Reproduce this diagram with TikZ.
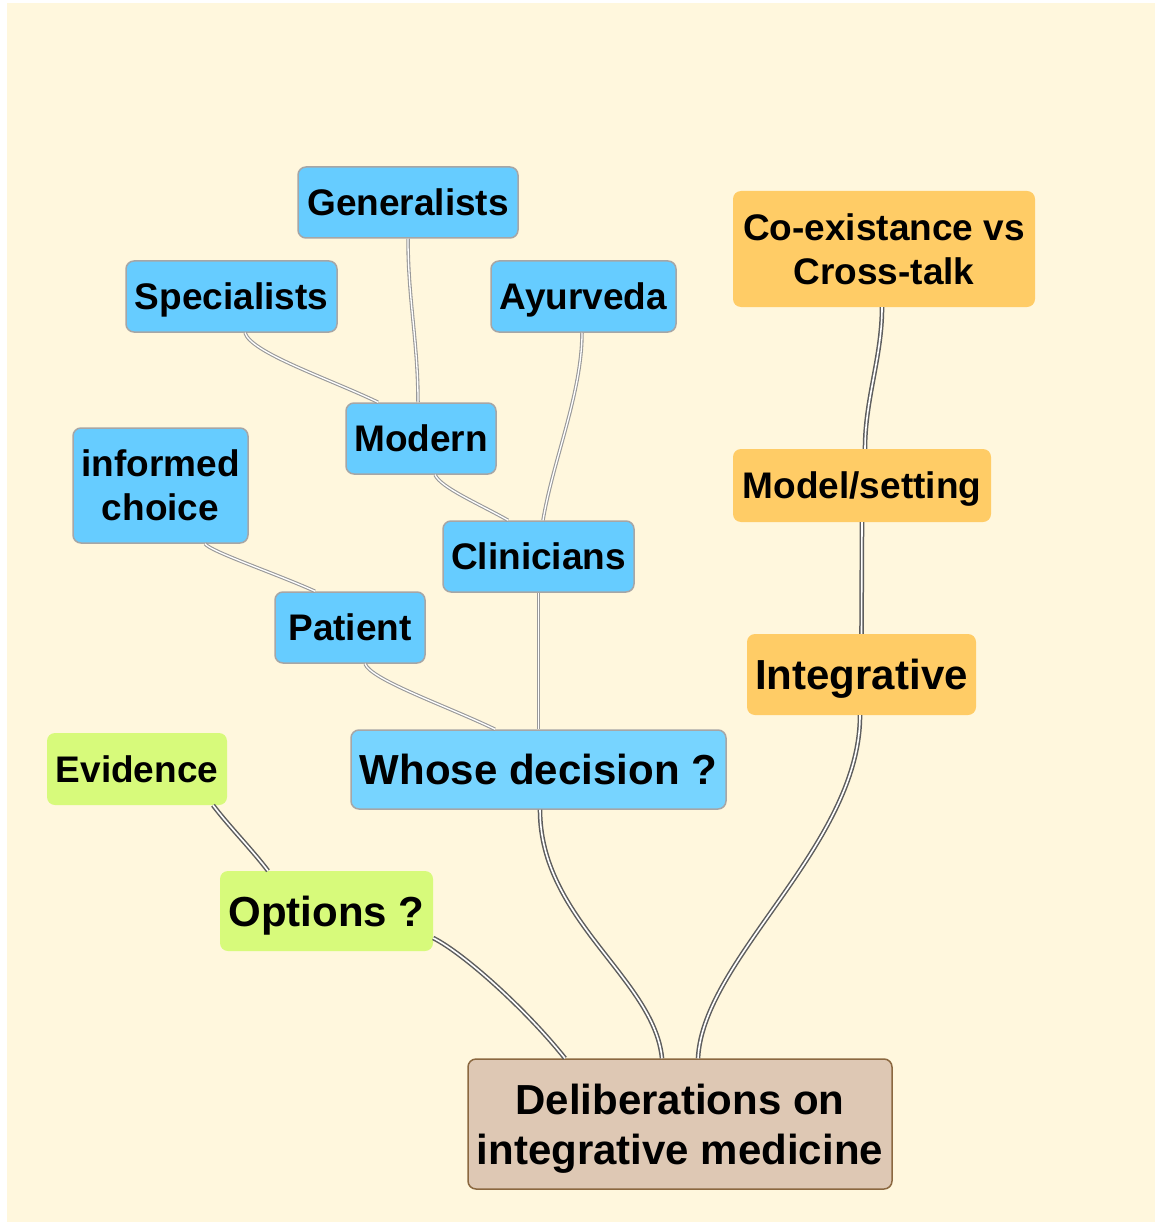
\documentclass[tikz,border=0pt]{standalone}
\usepackage{fontspec}
\setmainfont{Liberation Sans}
\usetikzlibrary{calc}
\definecolor{cream}{HTML}{FFF7DD}
\definecolor{bluefill}{HTML}{66CCFF}
\definecolor{bluefillb}{HTML}{77D4FF}
\definecolor{blueborder}{HTML}{A6A6A6}
\definecolor{greenfill}{HTML}{D7FA7B}
\definecolor{orangefill}{HTML}{FFCC66}
\definecolor{rootfill}{HTML}{DEC8B4}
\definecolor{rootborder}{HTML}{8B6840}
\definecolor{lightline}{HTML}{999999}
\definecolor{darkline}{HTML}{5E5E5E}
\tikzset{
  box/.style={rounded corners=8pt, inner sep=0pt, align=center, text depth=0pt, font=\bfseries\fontsize{37}{44}\selectfont},
  bigtext/.style={font=\bfseries\fontsize{42}{50}\selectfont},
  bluebox/.style={box, fill=bluefill, draw=blueborder, line width=1.5pt},
  greenbox/.style={box, fill=greenfill},
  orangebox/.style={box, fill=orangefill},
  rootbox/.style={box, bigtext, fill=rootfill, draw=rootborder, line width=1.5pt},
  lightlink/.style={draw=lightline, double=white, line width=1.1pt, double distance=1.3pt},
  darklink/.style={draw=darkline, double=white, line width=1.5pt, double distance=1.6pt},
}
\begin{document}
\begin{tikzpicture}[x=1pt,y=-1pt]
\useasboundingbox (0,0) rectangle (1155,1222);
\fill[white] (0,0) rectangle (1155,1222);
\fill[cream] (7,3) rectangle (1155,1222);

% nodes
\node[bluebox, minimum width=220pt, minimum height=71pt] (gen) at (408,202.5) {Generalists};
\node[bluebox, minimum width=211pt, minimum height=71pt] (spec) at (231.5,296.5) {Specialists};
\node[bluebox, minimum width=185pt, minimum height=71pt] (ayur) at (583.5,296.5) {Ayurveda};
\node[bluebox, minimum width=150pt, minimum height=71pt] (mod) at (421,438.5) {Modern};
\node[bluebox, minimum width=175pt, minimum height=115pt] (inf) at (160.5,485.5) {informed\\choice};
\node[bluebox, minimum width=191pt, minimum height=71pt] (clin) at (538.5,556.5) {Clinicians};
\node[bluebox, minimum width=150pt, minimum height=71pt] (pat) at (350,627.5) {Patient};
\node[bluebox, bigtext, fill=bluefillb, minimum width=375pt, minimum height=79pt] (whose) at (538.5,769.5) {Whose decision ?};
\node[greenbox, minimum width=180pt, minimum height=72pt] (evid) at (137,769) {Evidence};
\node[greenbox, bigtext, minimum width=213pt, minimum height=80pt] (opt) at (326.5,911) {Options ?};
\node[orangebox, minimum width=302pt, minimum height=116pt] (coex) at (884,249) {Co-existance vs\\Cross-talk};
\node[orangebox, minimum width=258pt, minimum height=73pt] (model) at (862,485.5) {Model/setting};
\node[orangebox, bigtext, minimum width=229pt, minimum height=81pt] (integ) at (861.5,674.5) {Integrative};
\node[rootbox, minimum width=424pt, minimum height=130pt] (root) at (680,1124) {Deliberations on\\integrative medicine};

% connectors
\draw[lightlink] (gen.south) .. controls +(0,60) and +(0,-60) .. ($(mod.north)+(-3,0)$);
\draw[lightlink] ($(spec.south)+(13.5,0)$) .. controls +(6,20) and +(-50,-24) .. ($(mod.north)+(-43,0)$);
\draw[lightlink] ($(ayur.south)+(-1.5,0)$) .. controls +(0,60) and +(10,-60) .. ($(clin.north)+(4.5,0)$);
\draw[lightlink] ($(mod.south)+(14,0)$) .. controls +(6,13) and +(-30,-17) .. ($(clin.north)+(-30.5,0)$);
\draw[lightlink] ($(inf.south)+(44.5,0)$) .. controls +(6,8) and +(-40,-18) .. ($(pat.north)+(-35,0)$);
\draw[lightlink] ($(pat.south)+(15,0)$) .. controls +(6,16) and +(-50,-24) .. ($(whose.north)+(-43.5,0)$);
\draw[lightlink] (clin.south) -- (whose.north);
\draw[darklink] ($(evid.south)+(76,0)$) .. controls +(15,20) and +(-15,-20) .. ($(opt.north)+(-58.5,0)$);
\draw[darklink] ($(opt.east)+(0,27)$) .. controls +(30,15) and +(-40,-50) .. ($(root.north)+(-115,0)$);
\draw[darklink] ($(whose.south)+(1.5,0)$) .. controls +(0,110) and +(-8,-80) .. ($(root.north)+(-18,0)$);
\draw[darklink] ($(integ.south)+(-1.5,0)$) .. controls +(0,130) and +(5,-100) .. ($(root.north)+(18,0)$);
\draw[darklink] (model.south) -- (integ.north);
\draw[darklink] ($(coex.south)+(-2,0)$) .. controls +(0,50) and +(0,-50) .. ($(model.north)+(3,0)$);
\end{tikzpicture}
\end{document}
